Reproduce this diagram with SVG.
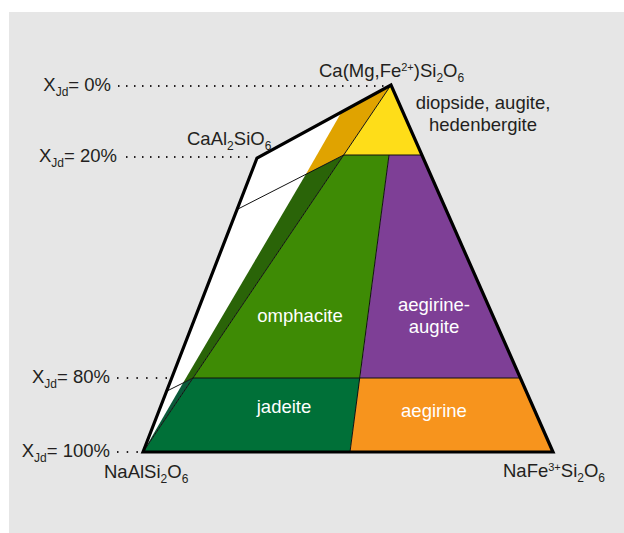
<svg xmlns="http://www.w3.org/2000/svg" width="624" height="533" viewBox="0 0 624 533">
  <style>
    text { font-family: "Liberation Sans", Arial, Helvetica, sans-serif; font-size: 18.5px; fill: #231f20; }
    .w { fill: #ffffff; text-anchor: middle; }
    .sub { font-size: 12px; }
    .sup { font-size: 11px; }
    .thin { stroke: #111; stroke-width: 1; fill: none; }
    .dots { stroke: #231f20; stroke-width: 2; fill: none; }
  </style>
  <rect x="0" y="0" width="624" height="533" fill="#ffffff"/>
  <rect x="9" y="12" width="615" height="521" fill="#e6e6e6"/>

  <g id="triangle-base">
    <polygon points="143,452 257,158 391,85 553,452" fill="#ffffff"/>
  </g>
  <g id="ca-tschermak-band">
    <polygon points="391,85 341,113 306,174 343.7,155" fill="#e0a300"/>
    <polygon points="306,174 343.7,155 193,378 183,383" fill="#2a6408"/>
    <polygon points="183,383 193,378 143,452" fill="#0b5a3a"/>
  </g>
  <g id="diopside">
    <polygon points="391,85 343.7,155 421,155" fill="#fedd19"/>
    <text x="483" y="109" text-anchor="middle">diopside, augite,</text>
    <text x="483" y="131" text-anchor="middle">hedenbergite</text>
  </g>
  <g id="omphacite">
    <polygon points="343.7,155 389,155 360,378 193,378" fill="#3e8b05"/>
    <text class="w" x="300" y="322">omphacite</text>
  </g>
  <g id="aegirine-augite">
    <polygon points="389,155 421,155 520,378 360,378" fill="#7e3f96"/>
    <text class="w" x="434" y="311">aegirine-</text>
    <text class="w" x="434" y="333">augite</text>
  </g>
  <g id="jadeite">
    <polygon points="193,378 360,378 350,452 143,452" fill="#007038"/>
    <text class="w" x="284" y="413">jadeite</text>
  </g>
  <g id="aegirine">
    <polygon points="360,378 520,378 553,452 350,452" fill="#f7941d"/>
    <text class="w" x="434" y="417">aegirine</text>
  </g>

  <g id="connectors">
    <line class="thin" x1="391" y1="85" x2="143" y2="452"/>
    <line class="thin" x1="238" y1="209" x2="343.7" y2="155"/>
    <line class="thin" x1="167" y1="391" x2="193" y2="378"/>
    <line class="thin" x1="343.7" y1="155" x2="421" y2="155"/>
    <line class="thin" x1="193" y1="378" x2="520" y2="378"/>
    <line class="thin" x1="389" y1="155" x2="350" y2="452"/>
    <line class="dots" x1="118" y1="86" x2="388" y2="86" stroke-dasharray="1.5 6.5"/>
    <line class="dots" x1="126" y1="157" x2="252" y2="157" stroke-dasharray="1.5 6.5"/>
    <line class="dots" x1="117" y1="378" x2="168" y2="378" stroke-dasharray="1.5 8.2"/>
    <line class="dots" x1="117" y1="452" x2="140" y2="452" stroke-dasharray="1.5 8.2"/>
  </g>

  <g id="outline">
    <polygon points="143,452 257,158 391,85 553,452" fill="none" stroke="#000" stroke-width="3.2" stroke-linejoin="miter"/>
  </g>

  <g id="labels">
    <text x="111" y="91" text-anchor="end">X<tspan class="sub" dy="5">Jd</tspan><tspan dy="-5">= 0%</tspan></text>
    <text x="117" y="162" text-anchor="end">X<tspan class="sub" dy="5">Jd</tspan><tspan dy="-5">= 20%</tspan></text>
    <text x="110" y="383" text-anchor="end">X<tspan class="sub" dy="5">Jd</tspan><tspan dy="-5">= 80%</tspan></text>
    <text x="110" y="457" text-anchor="end">X<tspan class="sub" dy="5">Jd</tspan><tspan dy="-5">= 100%</tspan></text>
    <text x="319" y="77">Ca(Mg,Fe<tspan class="sup" dy="-6">2+</tspan><tspan dy="6">)Si</tspan><tspan class="sub" dy="5">2</tspan><tspan dy="-5">O</tspan><tspan class="sub" dy="5">6</tspan></text>
    <text x="187" y="145">CaAl<tspan class="sub" dy="5">2</tspan><tspan dy="-5">SiO</tspan><tspan class="sub" dy="5">6</tspan></text>
    <text x="104" y="478">NaAlSi<tspan class="sub" dy="5">2</tspan><tspan dy="-5">O</tspan><tspan class="sub" dy="5">6</tspan></text>
    <text x="503" y="477">NaFe<tspan class="sup" dy="-6">3+</tspan><tspan dy="6">Si</tspan><tspan class="sub" dy="5">2</tspan><tspan dy="-5">O</tspan><tspan class="sub" dy="5">6</tspan></text>
  </g>
</svg>
